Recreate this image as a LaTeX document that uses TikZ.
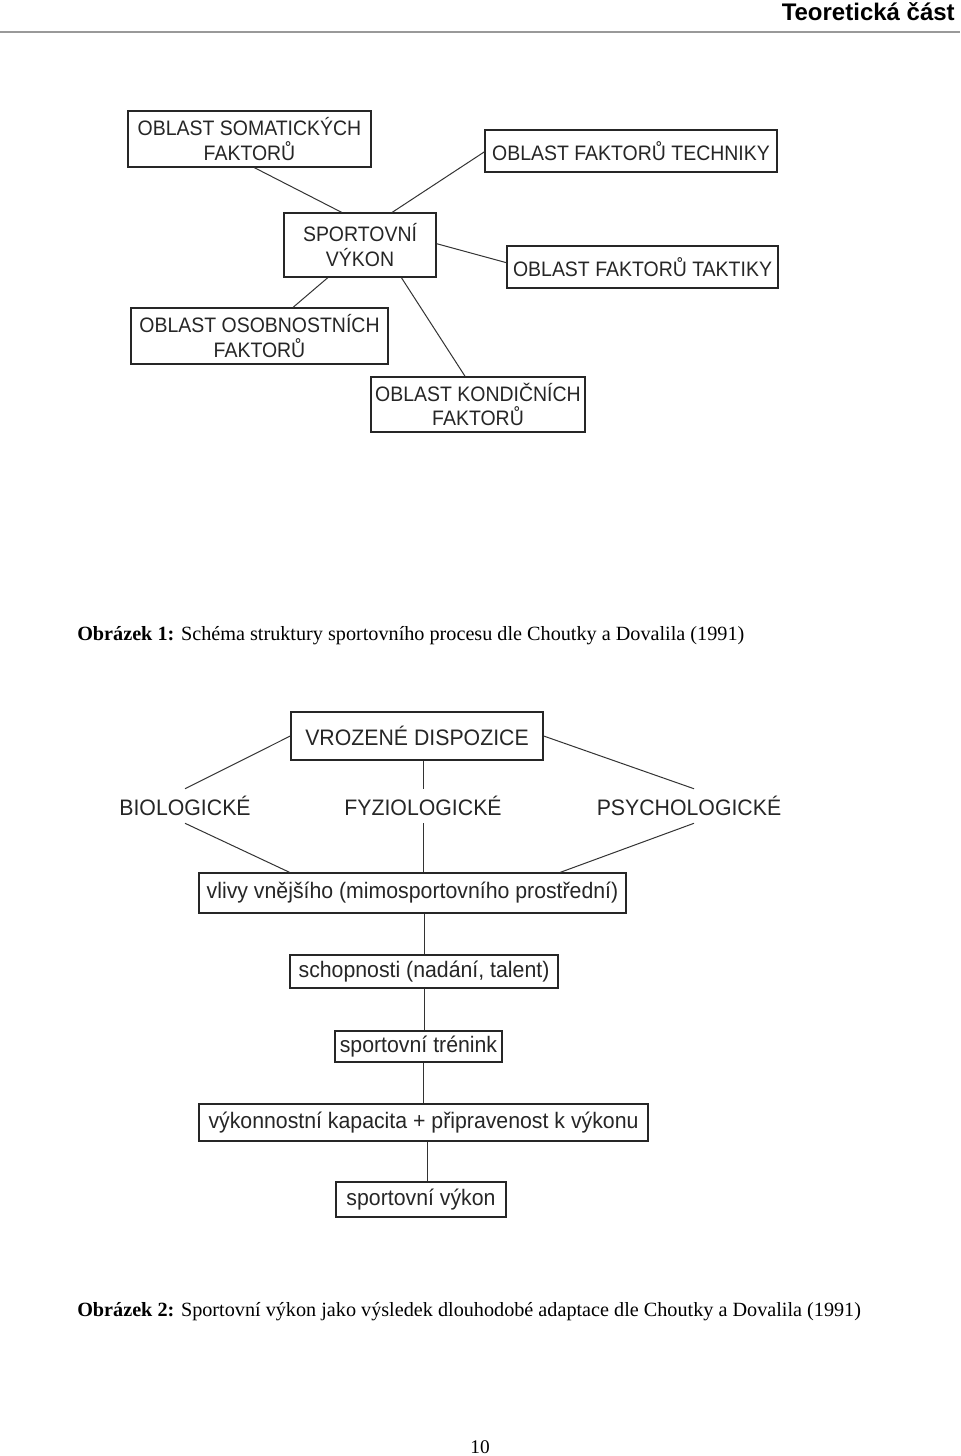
\documentclass[tikz,border=0pt]{standalone}
\usepackage{fontspec}
\setmainfont{Liberation Serif}
\newfontfamily\arialf{Liberation Sans}
\newfontfamily\arialn[FakeStretch=0.93]{Liberation Sans}
\newfontfamily\arialm[FakeStretch=0.95]{Liberation Sans}
\usetikzlibrary{calc}
\begin{document}
\begin{tikzpicture}[x=0.75pt,y=-0.75pt,
  boxa/.style={draw=black!85, line width=1pt, rectangle, inner sep=0pt, align=center, font=\arialn\fontsize{15.7}{18.5}\selectfont, text=black!85},
  boxb/.style={draw=black!85, line width=1pt, rectangle, inner sep=0pt, align=center, font=\arialm\fontsize{16.8}{19}\selectfont, text=black!85},
  lbl/.style={inner sep=0pt, minimum height=25.5pt, font=\arialm\fontsize{16.8}{19}\selectfont, text=black!85},
  conn/.style={draw=black!80, line width=0.75pt},
  captxt/.style={anchor=base west, inner sep=0pt, font=\fontsize{15.15}{17}\selectfont}
]
\useasboundingbox[fill=white] (0,0) rectangle (960,1456);

% header
\node[anchor=base east, inner sep=0pt, font=\arialf\bfseries\fontsize{18}{20}\selectfont] (hdr) at (955,21) {Teoretická část};
\coordinate (hl) at (0,32);
\coordinate (hr) at (960,32);
\draw[draw=black!40, line width=1.5pt] (hl) -- (hr);

% diagram 1
\node[boxa, minimum width=182.25pt, minimum height=42pt] (som) at (249.5,139) {OBLAST SOMATICKÝCH\\FAKTORŮ};
\node[boxa, minimum width=219pt, minimum height=31.5pt] (tech) at (631,151) {OBLAST FAKTORŮ TECHNIKY};
\node[boxa, minimum width=114pt, minimum height=48pt, font=\arialn\fontsize{15.7}{18.75}\selectfont] (sport) at (360,245) {SPORTOVNÍ\\VÝKON};
\node[boxa, minimum width=203.25pt, minimum height=31.5pt] (takt) at (642.5,267) {OBLAST FAKTORŮ TAKTIKY};
\node[boxa, minimum width=192.75pt, minimum height=42pt] (osob) at (259.5,336) {OBLAST OSOBNOSTNÍCH\\FAKTORŮ};
\node[boxa, minimum width=160.5pt, minimum height=41.25pt] (kond) at (478,404.5) {OBLAST KONDIČNÍCH\\FAKTORŮ};

\draw[conn] ($(som.south west)!0.52!(som.south east)$) -- ($(sport.north west)!0.38!(sport.north east)$);
\draw[conn] ($(tech.north west)!0.52!(tech.south west)$) -- ($(sport.north west)!0.71!(sport.north east)$);
\draw[conn] ($(sport.north east)!0.48!(sport.south east)$) -- ($(takt.north west)!0.40!(takt.south west)$);
\draw[conn] ($(sport.south west)!0.29!(sport.south east)$) -- ($(osob.north west)!0.63!(osob.north east)$);
\draw[conn] ($(sport.south west)!0.77!(sport.south east)$) -- ($(kond.north west)!0.44!(kond.north east)$);

\node[captxt] (cap1) at (77,640) {\textbf{Obrázek 1:} Schéma struktury sportovního procesu dle Choutky a Dovalila (1991)};

% diagram 2
\node[boxb, minimum width=189pt, minimum height=36pt] (vroz) at (417,736) {VROZENÉ DISPOZICE};
\node[lbl] (bio) at (185,806) {BIOLOGICKÉ};
\node[lbl] (fyz) at (423,806) {FYZIOLOGICKÉ};
\node[lbl] (psy) at (689,806) {PSYCHOLOGICKÉ};
\node[boxb, minimum width=320.25pt, minimum height=30pt] (vliv) at (412.5,893) {vlivy vnějšího (mimosportovního prostřední)};
\node[boxb, minimum width=201pt, minimum height=24.75pt] (schop) at (424,971.5) {schopnosti (nadání, talent)};
\node[boxb, minimum width=125.25pt, minimum height=23.25pt] (tren) at (418.5,1046.5) {sportovní trénink};
\node[boxb, minimum width=336.75pt, minimum height=27.75pt] (vyk) at (423.5,1122.5) {výkonnostní kapacita + připravenost k výkonu};
\node[boxb, line width=2pt, minimum width=127.5pt, minimum height=26.25pt] (sv) at (421,1199.5) {sportovní výkon};

\draw[conn] (vroz.west) -- (bio.north);
\draw[conn] (vroz.east) -- ([xshift=3.75pt]psy.north);
\draw[conn] (fyz.north |- vroz.south) -- (fyz.north);
\draw[conn] (fyz.south) -- (fyz.south |- vliv.north);
\draw[conn] (bio.south) -- ($(vliv.north west)!0.213!(vliv.north east)$);
\draw[conn] ([xshift=3.75pt]psy.south) -- ($(vliv.north west)!0.845!(vliv.north east)$);
\draw[conn] (schop.north |- vliv.south) -- (schop.north);
\draw[conn] (schop.south) -- (schop.south |- tren.north);
\draw[conn] (vyk.north |- tren.south) -- (vyk.north);
\draw[conn] ([xshift=3pt]vyk.south) -- ([xshift=3pt]vyk.south |- sv.north);

\node[captxt] (cap2) at (77,1316) {\textbf{Obrázek 2:} Sportovní výkon jako výsledek dlouhodobé adaptace dle Choutky a Dovalila (1991)};

\node[anchor=base, inner sep=0pt, font=\fontsize{14.5}{17}\selectfont] (pg) at (480,1453) {10};
\end{tikzpicture}
\end{document}
